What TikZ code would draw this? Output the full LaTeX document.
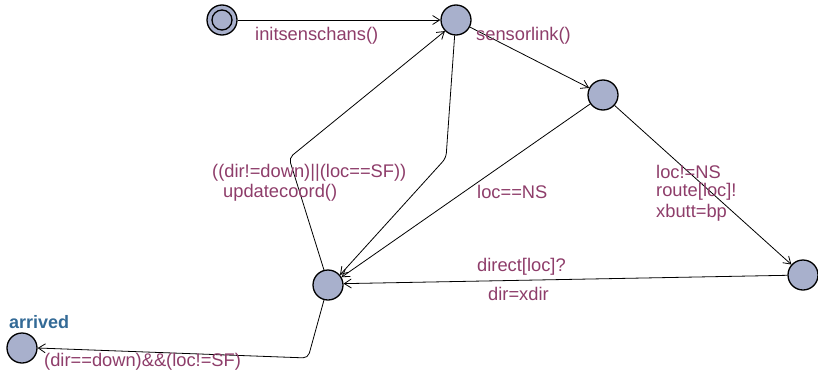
\documentclass[tikz,border=0pt]{standalone}
\usepackage{fontspec}
\setmainfont{Liberation Sans}
\usetikzlibrary{arrows.meta}
\definecolor{locfill}{HTML}{A8B0CC}
\definecolor{lbl}{HTML}{8E3D6A}
\definecolor{namec}{HTML}{336A96}
\begin{document}
\begin{tikzpicture}[x=1pt,y=-1pt,
  loc/.style={circle,draw=black,line width=1.3pt,fill=locfill,minimum size=30pt,inner sep=0pt},
  edge/.style={draw=black,line width=0.8pt,-{Straight Barb[length=7pt,width=9pt]},rounded corners=5pt},
  lab/.style={text=lbl,font=\fontsize{18.3}{20}\selectfont,anchor=west,inner sep=0pt},
  ]
\useasboundingbox (0,0) rectangle (818,375);
\node[loc] (init) at (222,20) {};
\node[circle,draw=black,line width=1.3pt,minimum size=20pt,inner sep=0pt] (initin) at (222,20) {};
\node[loc] (A) at (456,20) {};
\node[loc] (B) at (603,95) {};
\node[loc] (C) at (328,285) {};
\node[loc] (D) at (803,275) {};
\node[loc] (arr) at (22,348) {};
\node[text=namec,font=\bfseries\fontsize{18}{20}\selectfont,anchor=west,inner sep=0pt] (arrname) at (9,322) {arrived};

\coordinate (bendA) at (446,158);
\coordinate (bendC) at (289,158);
\coordinate (bendArr) at (308,358);

\draw[edge] (init) -- (A);
\draw[edge] (A) -- (B);
\draw[edge] (A.-95) -- (bendA) -- (C.40);
\draw[edge] (B) -- (C.30);
\draw[edge] (B) -- (D);
\draw[edge] (D) -- (C.5);
\draw[edge] (C.105) -- (bendC) -- (A.225);
\draw[edge] (C.-105) -- (bendArr) -- (arr.east);

\node[lab] (l1) at (255,36) {initsenschans()};
\node[lab] (l2) at (476,36) {sensorlink()};
\node[lab] (l3) at (212,173) {((dir!=down)||(loc==SF))};
\node[lab] (l4) at (223,193) {updatecoord()};
\node[lab] (l5) at (477,192) {loc==NS};
\node[lab] (l6) at (656,172) {loc!=NS};
\node[lab] (l7) at (656,192) {route[loc]!};
\node[lab] (l8) at (656,213) {xbutt=bp};
\node[lab] (l9) at (477,267) {direct[loc]?};
\node[lab] (l10) at (488,294) {dir=xdir};
\node[lab] (l11) at (44,362) {(dir==down)\&\&(loc!=SF)};
\end{tikzpicture}
\end{document}
